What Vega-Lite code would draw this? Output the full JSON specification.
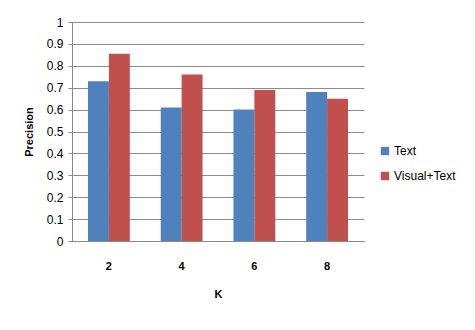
{
  "$schema": "https://vega.github.io/schema/vega-lite/v6.json",
  "width": 292,
  "height": 219,
  "autosize": {"type": "none"},
  "padding": {"left": 72, "top": 22, "right": 111, "bottom": 89},
  "background": "white",
  "data": {
    "values": [
      {"K": "2", "Series": "Text", "Precision": 0.73},
      {"K": "2", "Series": "Visual+Text", "Precision": 0.855},
      {"K": "4", "Series": "Text", "Precision": 0.61},
      {"K": "4", "Series": "Visual+Text", "Precision": 0.76},
      {"K": "6", "Series": "Text", "Precision": 0.6},
      {"K": "6", "Series": "Visual+Text", "Precision": 0.69},
      {"K": "8", "Series": "Text", "Precision": 0.68},
      {"K": "8", "Series": "Visual+Text", "Precision": 0.65}
    ]
  },
  "mark": {"type": "bar"},
  "encoding": {
    "x": {
      "field": "K", "type": "nominal",
      "scale": {"paddingInner": 0.425, "paddingOuter": 0.22},
      "axis": {
        "labelAngle": 0, "ticks": false, "domainColor": "#888888",
        "labelPadding": 19, "labelFontSize": 11, "labelFont": "Liberation Sans",
        "labelColor": "#000000", "labelFontWeight": "bold",
        "title": "K", "titleFont": "Liberation Sans", "titleFontSize": 11,
        "titleFontWeight": "bold", "titlePadding": 17, "titleColor": "#000000"
      }
    },
    "xOffset": {"field": "Series", "type": "nominal"},
    "y": {
      "field": "Precision", "type": "quantitative",
      "scale": {"domain": [0, 1], "nice": false},
      "axis": {
        "values": [0, 0.1, 0.2, 0.3, 0.4, 0.5, 0.6, 0.7, 0.8, 0.9, 1],
        "format": "~g", "gridColor": "#8c8c8c", "gridWidth": 1,
        "domainColor": "#888888", "tickColor": "#888888", "tickSize": 4,
        "labelPadding": 5, "labelFontSize": 12, "labelFont": "Liberation Sans",
        "labelColor": "#000000",
        "title": "Precision", "titleFont": "Liberation Sans", "titleFontSize": 11,
        "titleFontWeight": "bold", "titlePadding": 12, "titleColor": "#000000"
      }
    },
    "color": {
      "field": "Series", "type": "nominal",
      "scale": {"domain": ["Text", "Visual+Text"], "range": ["#4F81BD", "#C0504D"]},
      "legend": {
        "title": null, "orient": "none", "legendX": 307, "legendY": 123,
        "symbolType": "square", "symbolSize": 70, "symbolStrokeWidth": 0,
        "labelFontSize": 12, "labelFont": "Liberation Sans", "labelColor": "#000000",
        "rowPadding": 13, "labelOffset": 3
      }
    }
  },
  "config": {"view": {"stroke": null}, "axis": {"gridOpacity": 1}}
}
